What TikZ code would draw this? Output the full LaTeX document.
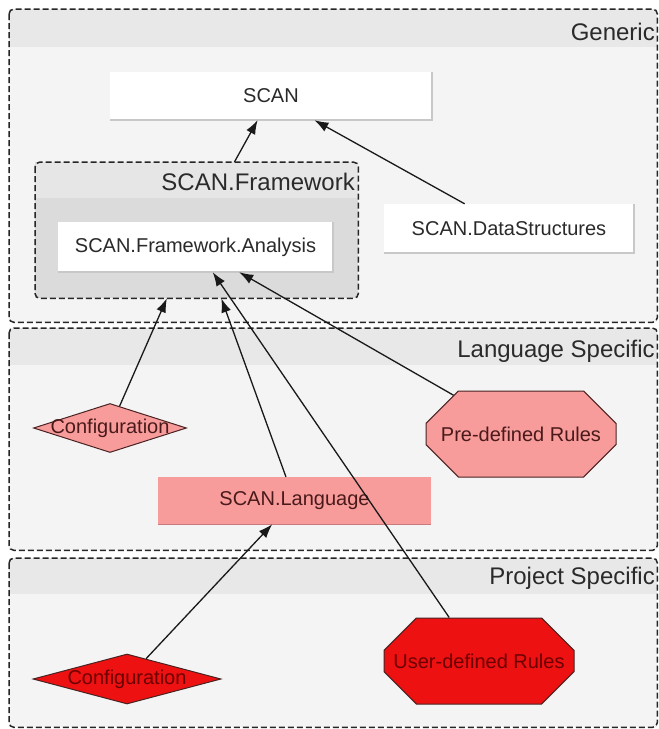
\documentclass[tikz,border=0pt]{standalone}
\usepackage{fontspec}
\setmainfont{Liberation Sans}
\usetikzlibrary{arrows.meta,shapes.geometric,shapes.misc}

\definecolor{grpbody}{HTML}{F4F4F4}
\definecolor{grphead}{HTML}{E8E8E8}
\definecolor{fwbody}{HTML}{DBDBDB}
\definecolor{fwhead}{HTML}{E6E6E6}
\definecolor{pinkfill}{HTML}{F79B9B}
\definecolor{redfill}{HTML}{EE1111}
\definecolor{shapeline}{HTML}{4A2222}
\definecolor{textgray}{HTML}{2A2A2A}
\definecolor{pinktext}{HTML}{4A1A1A}
\definecolor{redtext}{HTML}{6A0000}
\definecolor{boxedge}{HTML}{C8C8C8}

\tikzset{
  grp/.style={rectangle, fill=grpbody, inner sep=0pt, anchor=north west},
  grpborder/.style={draw=black!85, dash pattern=on 6pt off 3pt, line width=1.5pt, rounded corners=5pt},
  grplabel/.style={font=\fontsize{24}{28}\selectfont, text=textgray, inner sep=0pt, anchor=base east},
  box/.style={rectangle, fill=white, inner sep=0pt, text=textgray, font=\fontsize{20}{24}\selectfont},
  edgeline/.style={draw=boxedge, line width=1.5pt},
  cfg/.style={diamond, draw=shapeline, line width=1pt, inner sep=0pt, font=\fontsize{20}{24}\selectfont},
  rules/.style={chamfered rectangle, chamfered rectangle xsep=54pt, chamfered rectangle ysep=25pt,
                draw=shapeline, line width=1pt, inner sep=0pt, font=\fontsize{20}{24}\selectfont},
  arr/.style={-{Latex[length=14pt,width=10pt]}, line width=1.3pt, draw=black!90}
}

\begin{document}
\begin{tikzpicture}[x=1pt,y=-1pt]
\useasboundingbox (0,0) rectangle (659,729);

% group: Generic
\node[grp, minimum width=648pt, minimum height=313pt] (gen) at (9,9) {};
\begin{scope}
  \clip[rounded corners=5pt] (gen.north west) rectangle (gen.south east);
  \fill[grphead] (gen.north west) rectangle ([yshift=-38pt]gen.north east);
\end{scope}
\draw[grpborder] (gen.north west) rectangle (gen.south east);
\node[grplabel] (genlbl) at (655,40) {Generic};

% group: Language Specific
\node[grp, minimum width=648pt, minimum height=222pt] (lang) at (9,328) {};
\begin{scope}
  \clip[rounded corners=5pt] (lang.north west) rectangle (lang.south east);
  \fill[grphead] (lang.north west) rectangle ([yshift=-37pt]lang.north east);
\end{scope}
\draw[grpborder] (lang.north west) rectangle (lang.south east);
\node[grplabel] (langlbl) at (655,357) {Language Specific};

% group: Project Specific
\node[grp, minimum width=648pt, minimum height=169pt] (proj) at (9,558) {};
\begin{scope}
  \clip[rounded corners=5pt] (proj.north west) rectangle (proj.south east);
  \fill[grphead] (proj.north west) rectangle ([yshift=-36pt]proj.north east);
\end{scope}
\draw[grpborder] (proj.north west) rectangle (proj.south east);
\node[grplabel] (projlbl) at (655,584) {Project Specific};

% nested group: SCAN.Framework
\node[grp, fill=fwbody, minimum width=323pt, minimum height=136pt] (fw) at (35,162) {};
\begin{scope}
  \clip[rounded corners=5pt] (fw.north west) rectangle (fw.south east);
  \fill[fwhead] (fw.north west) rectangle ([yshift=-36pt]fw.north east);
\end{scope}
\draw[grpborder] (fw.north west) rectangle (fw.south east);
\node[grplabel] (fwlbl) at (355,190) {SCAN.Framework};

% white boxes
\node[box, minimum width=322pt, minimum height=48pt] (scan) at (271,96) {SCAN};
\draw[edgeline] (scan.south west) -- (scan.south east) -- (scan.north east);
\node[box, minimum width=275pt, minimum height=50pt] (ana) at (195.5,247) {SCAN.Framework.Analysis};
\draw[edgeline] (ana.south west) -- (ana.south east) -- (ana.north east);
\node[box, minimum width=250pt, minimum height=49pt] (data) at (509,228.5) {SCAN.DataStructures};
\draw[edgeline] (data.south west) -- (data.south east) -- (data.north east);

% language specific parts
\node[box, fill=pinkfill, text=pinktext, minimum width=273pt, minimum height=47pt] (slang) at (294.5,500.5) {SCAN.Language};
\draw[draw=pinkfill!80!black, line width=1.2pt] (slang.south west) -- (slang.south east);
\node[cfg, fill=pinkfill, text=pinktext, minimum width=153pt, minimum height=49pt] (cfgA) at (110,428) {\makebox[0pt]{Configuration}};
\node[rules, fill=pinkfill, text=pinktext, minimum width=190pt, minimum height=86pt] (pre) at (521,434) {Pre-defined Rules};

% project specific parts
\node[cfg, fill=redfill, text=redtext, minimum width=188pt, minimum height=50pt] (cfgB) at (127,679) {\makebox[0pt]{Configuration}};
\node[rules, fill=redfill, text=redtext, minimum width=190pt, minimum height=86pt] (user) at (479,661) {User-defined Rules};

% dependencies
\draw[arr] (fw) -- (scan);
\draw[arr] (data) -- (scan);
\draw[arr] (cfgA) -- (fw);
\draw[arr] (slang) -- (fw);
\draw[arr] (user) -- (ana);
\draw[arr] (pre) -- (ana);
\draw[arr] (cfgB) -- (slang);
\end{tikzpicture}
\end{document}
